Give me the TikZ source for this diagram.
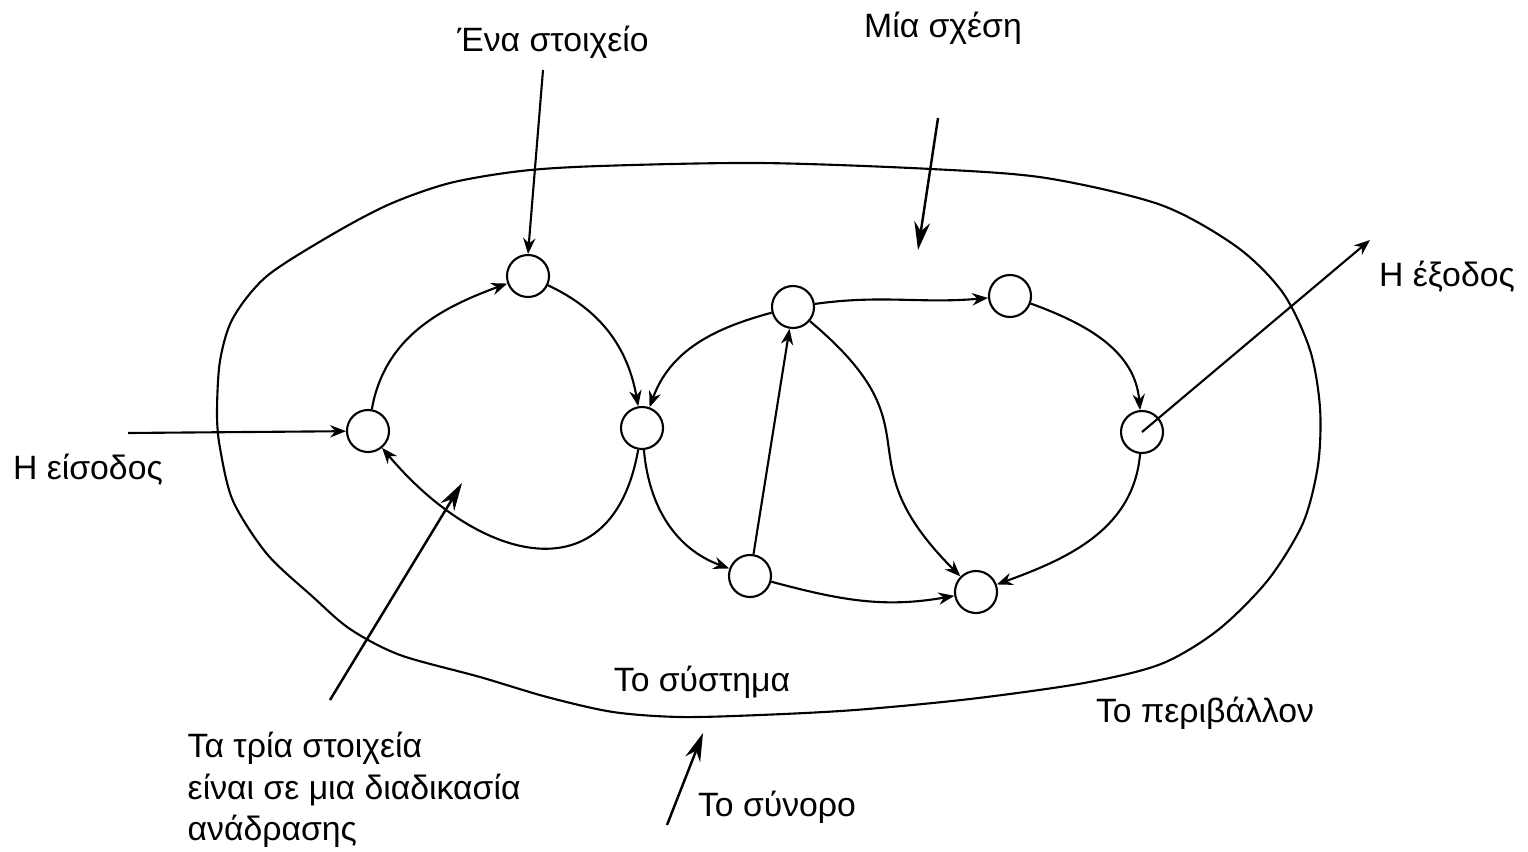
\documentclass[tikz,border=0pt]{standalone}
\usepackage{fontspec}
\setmainfont{Liberation Sans}
\usetikzlibrary{arrows.meta}
\tikzset{
  elem/.style = {circle, draw = black, line width = 0.6pt, minimum size = 0.42cm, inner sep = 0pt},
  flow/.style = {-{Stealth[length = 4.5pt, width = 3.5pt]}, line width = 0.6pt},
  pointer/.style = {-{Stealth[length = 8pt, width = 4.5pt]}, line width = 0.7pt},
  caption/.style = {font = \fontsize{9.6}{11.8}\selectfont, inner sep = 0pt}
}
\begin{document}
\begin{tikzpicture}[x = 0.01cm, y = 0.01cm]
\useasboundingbox (0,0) rectangle (1528,851);
% the boundary
\draw [line width = 0.6pt] plot [smooth cycle, tension = 0.5] coordinates {(333,617) (390,647) (450,668) (521,680) (600,685) (760,688) (931,682) (1046,673) (1161,646) (1237,604) (1283,558) (1310,501) (1320,443) (1318,386) (1303,328) (1268,271) (1218,221) (1161,187) (1084,168) (970,152) (855,141) (760,136) (680,134) (613,139) (547,154) (480,174) (400,196) (350,222) (313,254) (267,297) (233,350) (220,403) (217,438) (220,490) (233,533) (267,575)};
% the elements
\foreach \n/\x/\y in {1/368/420, 2/528/575, 3/642/423, 4/793/544, 5/1010/555, 6/1142/419, 7/750/275, 8/976/259}
  \node [elem] (s\n) at (\x,\y) {};
% the relations
\draw [flow] (s1) to [out = 80, in = 200] (s2);
\draw [flow] (s2) to [out = -25, in = 100] (s3);
\draw [flow] (s3) to [out = -100, in = -50, looseness = 1.5] (s1);
\draw [flow] (s4) to [out = 195, in = 70] (s3);
\draw [flow] (s3) to [out = -85, in = 160] (s7);
\draw [flow] (s7) -- (s4);
\draw [flow] (s4) to [out = -40, in = 135, looseness = 1.5] (s8);
\draw [flow] (s4) to [out = 8, in = 185] (s5);
\draw [flow] (s5) to [out = -20, in = 95] (s6);
\draw [flow] (s6) to [out = -95, in = 20] (s8);
\draw [flow] (s7) to [out = -15, in = 190] (s8);
% input and output
\coordinate (src) at (128,418);
\coordinate (snk) at (1370,611);
\draw [flow] (src) -- (s1);
\draw [flow] (s6.center) -- (snk);
% labels
\node [caption] (in) at (88,381) {Η είσοδος};
\node [caption] (out) at (1447,574) {Η έξοδος};
\node [caption] (elemtxt) at (553,809) {Ένα στοιχείο};
\node [caption] (reltxt) at (943,823) {Μία σχέση};
\node [caption] (systxt) at (702,169) {Το σύστημα};
\node [caption] (envtxt) at (1205,138) {Το περιβάλλον};
\node [caption] (bndtxt) at (777,44) {Το σύνορο};
\node [caption, anchor = west, align = left] (fbtxt) at (187,61) {Τα τρία στοιχεία\\είναι σε μια διαδικασία\\ανάδρασης};
% pointers
\coordinate (p1) at (543,781);
\coordinate (p2) at (938,733);
\coordinate (q2) at (918,601);
\coordinate (p3) at (330,151);
\coordinate (q3) at (462,368);
\coordinate (p4) at (667,26);
\coordinate (q4) at (703,118);
\draw [flow] (p1) -- (s2.north);
\draw [pointer] (p2) -- (q2);
\draw [pointer] (p3) -- (q3);
\draw [pointer] (p4) -- (q4);
\end{tikzpicture}
\end{document}
